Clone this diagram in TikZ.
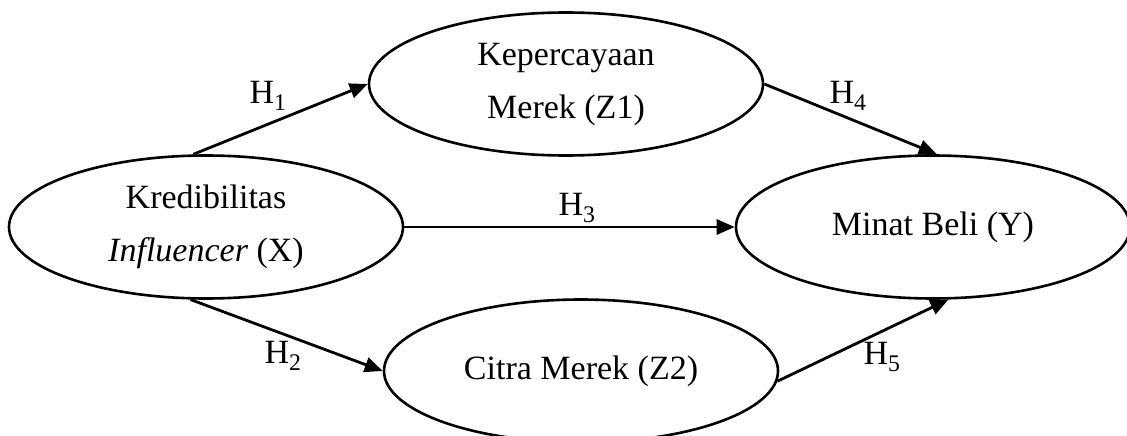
\documentclass[tikz,border=0pt]{standalone}
\usepackage{fontspec}
\setmainfont{Liberation Serif}
\usetikzlibrary{shapes.geometric,arrows.meta}
\begin{document}
\begin{tikzpicture}[x=1pt,y=-1pt,
  var/.style={draw,ellipse,line width=2.6pt,minimum width=394pt,minimum height=143pt,inner sep=0pt,align=center,font=\fontsize{34}{53}\selectfont},
  conn/.style={line width=2.8pt,-{Triangle[length=18pt,width=15pt]}},
  hlab/.style={font=\fontsize{34}{40}\selectfont,inner sep=0pt}]
\useasboundingbox (0,0) rectangle (1127,436);
\clip (0,0) rectangle (1127,436);
\fill[white] (0,0) rectangle (1127,436);
\node[var] (X) at (206,227) {Kredibilitas\\\textit{Influencer} (X)};
\node[var] (Z1) at (566,84) {Kepercayaan\\Merek (Z1)};
\node[var] (Y) at (933,227) {Minat Beli (Y)};
\node[var] (Z2) at (581,371) {Citra Merek (Z2)};
\draw[conn] (X.100) -- (Z1.west);
\draw[conn] (X.258) -- (Z2.west);
\draw[conn] (X.east) -- (Y.west);
\draw[conn] (Z1.east) -- (Y.87);
\draw[conn] (Z2.357) -- (Y.282);
\node[hlab] (h1) at (268,96) {H\textsubscript{1}};
\node[hlab] (h2) at (283,356) {H\textsubscript{2}};
\node[hlab] (h3) at (577,208) {H\textsubscript{3}};
\node[hlab] (h4) at (848,96) {H\textsubscript{4}};
\node[hlab] (h5) at (882,357) {H\textsubscript{5}};
\end{tikzpicture}
\end{document}
